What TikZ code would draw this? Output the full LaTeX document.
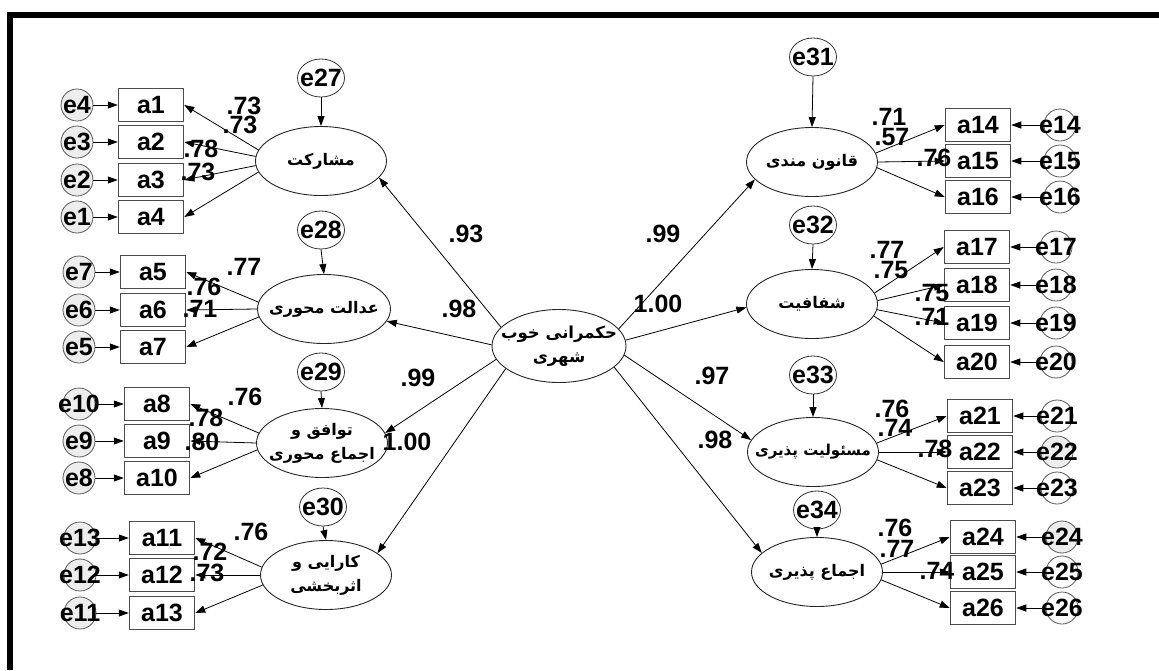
\documentclass[tikz,border=0pt]{standalone}
\usepackage{fontspec}
\setmainfont{Liberation Sans}
\newfontfamily\arabicfont[Script=Arabic]{DejaVu Sans}
\TeXXeTstate=1
\usetikzlibrary{shapes.geometric,arrows.meta}
\tikzset{
  lbl/.style={font=\fontsize{25}{28}\selectfont\bfseries, inner sep=0pt},
  obs/.style={draw=black!70, line width=1.5pt, minimum width=65pt, minimum height=33pt, inner sep=0pt, font=\fontsize{25}{28}\selectfont\bfseries},
  err/.style={circle, draw=black!65, fill=black!7, line width=0.8pt, minimum size=32pt, inner sep=0pt},
  errw/.style={err, fill=white},
  res/.style={ellipse, draw=black!80, line width=0.8pt, minimum width=47pt, minimum height=38pt, inner sep=0pt},
  lat/.style={ellipse, draw=black!85, line width=0.9pt, minimum width=131pt, minimum height=69pt, inner sep=0pt},
  ptxt/.style={inner sep=0pt, align=center, font=\arabicfont\bfseries\fontsize{16}{24}\selectfont},
  arr/.style={-{Triangle[length=10pt,width=7pt]}, line width=0.8pt},
}
\begin{document}
\begin{tikzpicture}[x=1pt,y=-1pt]
\useasboundingbox (0,0) rectangle (1159,670);
% frame
\fill[black] (7,12) rectangle (1159,18);
\fill[black] (7,12) rectangle (13,670);

% ---------- latent variables ----------
\node[lat, minimum width=134pt, minimum height=73pt, label={[ptxt, font=\arabicfont\bfseries\fontsize{16.5}{24}\selectfont]center:{\beginR حکمرانی خوب\endR\\\beginR شهری\endR}}] (C) at (559,346) {};
\node[lat, label={[ptxt]center:{\beginR مشارکت\endR}}] (F1) at (321,161) {};
\node[lat, minimum width=133pt, label={[ptxt]center:{\beginR عدالت محوری\endR}}] (F2) at (324,309) {};
\node[lat, label={[ptxt]center:{\beginR توافق و\endR\\\beginR اجماع محوری\endR}}] (F3) at (322,443) {};
\node[lat, label={[ptxt]center:{\beginR کارایی و\endR\\\beginR اثربخشی\endR}}] (F4) at (326,575) {};
\node[lat, label={[ptxt]center:{\beginR قانون مندی\endR}}] (F5) at (812,162) {};
\node[lat, label={[ptxt]center:{\beginR شفافیت\endR}}] (F6) at (812,304) {};
\node[lat, label={[ptxt, font=\arabicfont\bfseries\fontsize{15}{22}\selectfont]center:{\beginR مسئولیت پذیری\endR}}] (F7) at (813,452) {};
\node[lat, label={[ptxt]center:{\beginR اجماع پذیری\endR}}] (F8) at (817,572) {};

% ---------- residuals of latents ----------
\node[res, label={[lbl]center:e27}] (e27) at (321,78) {};
\node[res, label={[lbl]center:e28}] (e28) at (321,230) {};
\node[res, label={[lbl]center:e29}] (e29) at (321,372) {};
\node[res, label={[lbl]center:e30}] (e30) at (323,507) {};
\node[res, label={[lbl]center:e31}] (e31) at (813,57) {};
\node[res, label={[lbl]center:e32}] (e32) at (813,225) {};
\node[res, label={[lbl]center:e33}] (e33) at (813,375) {};
\node[res, label={[lbl]center:e34}] (e34) at (817,510) {};
\foreach \e/\f in {e27/F1,e28/F2,e29/F3,e30/F4,e31/F5,e32/F6,e33/F7,e34/F8}
  \draw[arr] (\e.south) -- (\f.north);

% ---------- left indicators ----------
\node[obs] (a1) at (151,105) {a1};
\node[obs] (a2) at (151,142) {a2};
\node[obs] (a3) at (151,180) {a3};
\node[obs] (a4) at (151,217) {a4};
\node[obs] (a5) at (153,272) {a5};
\node[obs] (a6) at (153,310) {a6};
\node[obs] (a7) at (153,347) {a7};
\node[obs] (a8) at (157,404) {a8};
\node[obs] (a9) at (157,441) {a9};
\node[obs] (a10) at (157,478) {a10};
\node[obs] (a11) at (162,538) {a11};
\node[obs] (a12) at (162,575) {a12};
\node[obs] (a13) at (162,613) {a13};

\node[err, label={[lbl]center:e4}] (e4) at (77,105) {};
\node[err, label={[lbl]center:e3}] (e3) at (77,142) {};
\node[err, label={[lbl]center:e2}] (e2) at (77,180) {};
\node[err, label={[lbl]center:e1}] (e1) at (77,217) {};
\node[err, label={[lbl]center:e7}] (e7) at (79,272) {};
\node[err, label={[lbl]center:e6}] (e6) at (79,310) {};
\node[err, label={[lbl]center:e5}] (e5) at (79,347) {};
\node[err, label={[lbl]center:e10}] (e10) at (79,404) {};
\node[err, label={[lbl]center:e9}] (e9) at (79,441) {};
\node[err, label={[lbl]center:e8}] (e8) at (79,478) {};
\node[err, label={[lbl]center:e13}] (e13) at (80,538) {};
\node[err, label={[lbl]center:e12}] (e12) at (80,575) {};
\node[err, label={[lbl]center:e11}] (e11) at (80,613) {};
\foreach \e/\a in {e4/a1,e3/a2,e2/a3,e1/a4,e7/a5,e6/a6,e5/a7,e10/a8,e9/a9,e8/a10,e13/a11,e12/a12,e11/a13}
  \draw[arr] (\e.east) -- (\a.west);

% loadings left
\draw[arr] (F1.170) -- (a1.east);
\draw[arr] (F1.176) -- (a2.east);
\draw[arr] (F1.184) -- (a3.east);
\draw[arr] (F1.190) -- (a4.east);
\draw[arr] (F2.174) -- (a5.east);
\draw[arr] (F2.180) -- (a6.east);
\draw[arr] (F2.187) -- (a7.east);
\draw[arr] (F3.171) -- (a8.east);
\draw[arr] (F3.180) -- (a9.east);
\draw[arr] (F3.186) -- (a10.east);
\draw[arr] (F4.173) -- (a11.east);
\draw[arr] (F4.180) -- (a12.east);
\draw[arr] (F4.189) -- (a13.east);

% ---------- right indicators ----------
\node[obs] (a14) at (978,125) {a14};
\node[obs] (a15) at (978,161) {a15};
\node[obs] (a16) at (978,197) {a16};
\node[obs] (a17) at (977,247) {a17};
\node[obs] (a18) at (977,285) {a18};
\node[obs] (a19) at (977,323) {a19};
\node[obs] (a20) at (977,362) {a20};
\node[obs] (a21) at (980,416) {a21};
\node[obs] (a22) at (980,452) {a22};
\node[obs] (a23) at (980,488) {a23};
\node[obs] (a24) at (983,537) {a24};
\node[obs] (a25) at (983,572) {a25};
\node[obs] (a26) at (983,608) {a26};

\node[errw, label={[lbl]center:e14}] (e14) at (1060,125) {};
\node[errw, label={[lbl]center:e15}] (e15) at (1060,161) {};
\node[errw, label={[lbl]center:e16}] (e16) at (1060,197) {};
\node[errw, label={[lbl]center:e17}] (e17) at (1056,247) {};
\node[errw, label={[lbl]center:e18}] (e18) at (1056,285) {};
\node[errw, label={[lbl]center:e19}] (e19) at (1056,323) {};
\node[errw, label={[lbl]center:e20}] (e20) at (1056,362) {};
\node[errw, label={[lbl]center:e21}] (e21) at (1057,416) {};
\node[err, label={[lbl]center:e22}] (e22) at (1057,452) {};
\node[errw, label={[lbl]center:e23}] (e23) at (1057,488) {};
\node[err, label={[lbl]center:e24}] (e24) at (1062,537) {};
\node[errw, label={[lbl]center:e25}] (e25) at (1062,572) {};
\node[errw, label={[lbl]center:e26}] (e26) at (1062,608) {};
\foreach \e/\a in {e14/a14,e15/a15,e16/a16,e17/a17,e18/a18,e19/a19,e20/a20,e21/a21,e22/a22,e23/a23,e24/a24,e25/a25,e26/a26}
  \draw[arr] (\e.west) -- (\a.east);

% loadings right
\draw[arr] (F5.8) -- (a14.west);
\draw[arr] (F5.0) -- (a15.west);
\draw[arr] (F5.-5) -- (a16.west);
\draw[arr] (F6.10) -- (a17.west);
\draw[arr] (F6.3) -- (a18.west);
\draw[arr] (F6.-5) -- (a19.west);
\draw[arr] (F6.-11) -- (a20.west);
\draw[arr] (F7.8) -- (a21.west);
\draw[arr] (F7.0) -- (a22.west);
\draw[arr] (F7.-7) -- (a23.west);
\draw[arr] (F8.7) -- (a24.west);
\draw[arr] (F8.0) -- (a25.west);
\draw[arr] (F8.-7) -- (a26.west);

% ---------- structural paths ----------
\draw[arr] (C.162) -- (F1.-16);
\draw[arr] (C.179) -- (F2.-11);
\draw[arr] (C.192) -- (F3.9);
\draw[arr] (C.203) -- (F4.23);
\draw[arr] (C.16) -- (F5.197);
\draw[arr] (C.5) -- (F6.183);
\draw[arr] (C.-8) -- (F7.169);
\draw[arr] (C.-21) -- (F8.161);

% ---------- coefficient labels ----------
\node[lbl] (l1) at (244,106) {.73};
\node[lbl] (l2) at (240,125) {.73};
\node[lbl] (l3) at (201,149) {.78};
\node[lbl] (l4) at (198,172) {.73};
\node[lbl] (l5) at (244,267) {.77};
\node[lbl] (l6) at (204,287) {.76};
\node[lbl] (l7) at (200,309) {.71};
\node[lbl] (l8) at (245,397) {.76};
\node[lbl] (l9) at (206,418) {.78};
\node[lbl] (l10) at (202,442) {.80};
\node[lbl] (l11) at (251,532) {.76};
\node[lbl] (l12) at (210,552) {.72};
\node[lbl] (l13) at (207,573) {.73};
\node[lbl] (s1) at (466,234) {.93};
\node[lbl] (s2) at (459,309) {.98};
\node[lbl] (s3) at (418,378) {.99};
\node[lbl] (s4) at (407,442) {1.00};
\node[lbl] (s5) at (663,234) {.99};
\node[lbl] (s6) at (658,304) {1.00};
\node[lbl] (s7) at (712,376) {.97};
\node[lbl] (s8) at (715,440) {.98};
\node[lbl] (r1) at (889,117) {.71};
\node[lbl] (r2) at (892,137) {.57};
\node[lbl] (r3) at (934,158) {.76};
\node[lbl] (r4) at (887,250) {.77};
\node[lbl] (r5) at (891,270) {.75};
\node[lbl] (r6) at (932,293) {.75};
\node[lbl] (r7) at (932,317) {.71};
\node[lbl] (r8) at (892,409) {.76};
\node[lbl] (r9) at (895,428) {.74};
\node[lbl] (r10) at (935,449) {.78};
\node[lbl] (r11) at (895,528) {.76};
\node[lbl] (r12) at (897,549) {.77};
\node[lbl] (r13) at (937,571) {.74};
\end{tikzpicture}
\end{document}
